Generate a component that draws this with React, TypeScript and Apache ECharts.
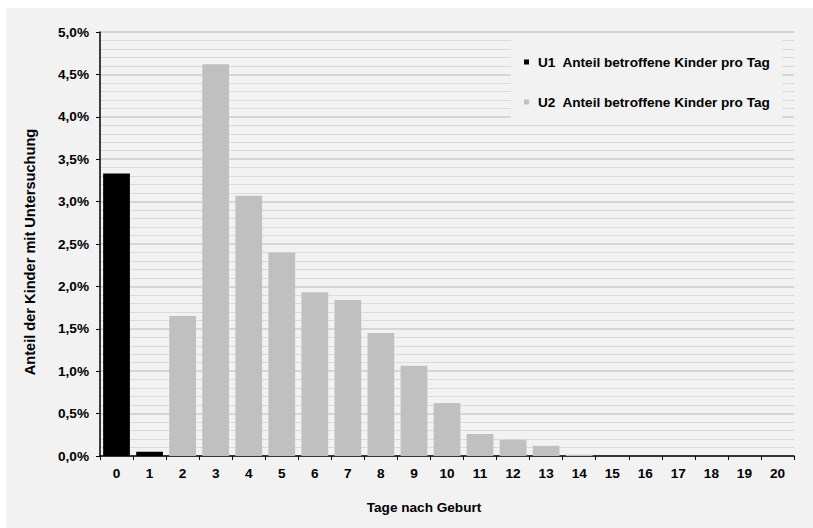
import React, { useEffect, useRef } from "react";
import * as echarts from "echarts";

const categories = ["0","1","2","3","4","5","6","7","8","9","10","11","12","13","14","15","16","17","18","19","20"];
const u1Values: (number | null)[] = [3.33, 0.05, null, null, null, null, null, null, null, null, null, null, null, null, null, null, null, null, null, null, null];
const u2Values: (number | null)[] = [null, null, 1.65, 4.62, 3.07, 2.40, 1.93, 1.84, 1.45, 1.065, 0.625, 0.26, 0.19, 0.12, 0.015, 0, 0, 0, 0, 0, 0];
const u1Name = "U1  Anteil betroffene Kinder pro Tag";
const u2Name = "U2  Anteil betroffene Kinder pro Tag";
const yTitle = "Anteil der Kinder mit Untersuchung";
const xTitle = "Tage nach Geburt";

const FONT = '"Liberation Sans", Arial, sans-serif';
const FS = 13.6;

export default function App() {
  const ref = useRef<HTMLDivElement>(null);
  useEffect(() => {
    if (!ref.current) return;
    const chart = echarts.init(ref.current, undefined, { renderer: "svg" });
    chart.setOption({
      animation: false,
      backgroundColor: "#f2f2f2",
      textStyle: { fontFamily: FONT },
      grid: { left: 94, top: 24, width: 694, height: 424, containLabel: false },
      legend: {
        orient: "vertical",
        left: 505,
        top: 32,
        backgroundColor: "#f2f2f2",
        padding: [14, 12, 14, 13],
        itemWidth: 5,
        itemHeight: 5,
        itemGap: 24,
        icon: "rect",
        data: [u1Name, u2Name],
        textStyle: {
          fontFamily: FONT,
          fontSize: FS,
          fontWeight: "bold",
          color: "#000",
          lineHeight: 16,
          padding: [0, 0, 0, 4],
        },
      },
      xAxis: {
        type: "category",
        data: categories,
        axisLine: { show: true, lineStyle: { color: "#000", width: 1.5 } },
        axisTick: { show: true, length: 4, lineStyle: { color: "#000" } },
        axisLabel: { fontFamily: FONT, fontSize: FS, fontWeight: "bold", color: "#000", margin: 10, interval: 0 },
        splitLine: { show: false },
      },
      yAxis: {
        type: "value",
        min: 0,
        max: 5,
        interval: 0.5,
        axisLine: { show: true, lineStyle: { color: "#000", width: 1.5 } },
        axisTick: { show: true, length: 4, lineStyle: { color: "#000" } },
        axisLabel: {
          fontFamily: FONT,
          fontSize: FS,
          fontWeight: "bold",
          color: "#000",
          margin: 11,
          formatter: (v: number) => v.toFixed(1).replace(".", ",") + "%",
        },
        splitLine: { show: true, lineStyle: { color: "#d6d6d6", width: 2 } },
        minorTick: { show: false, splitNumber: 5 },
        minorSplitLine: { show: true, lineStyle: { color: "#dadada", width: 1 } },
      },
      series: [
        {
          name: u1Name,
          type: "bar",
          data: u1Values,
          barCategoryGap: "19%",
          barGap: "-100%",
          itemStyle: { color: "#000000" },
        },
        {
          name: u2Name,
          type: "bar",
          data: u2Values,
          barCategoryGap: "19%",
          barGap: "-100%",
          itemStyle: { color: "#c0c0c0" },
        },
      ],
      graphic: [
        {
          type: "text",
          x: 24,
          y: 244,
          rotation: Math.PI / 2,
          style: {
            text: yTitle,
            fontFamily: FONT,
            fontSize: 14.6,
            fontWeight: "bold",
            fill: "#000",
            align: "center",
            verticalAlign: "middle",
          },
        },
        {
          type: "text",
          x: 418,
          y: 499,
          style: {
            text: xTitle,
            fontFamily: FONT,
            fontSize: FS,
            fontWeight: "bold",
            fill: "#000",
            align: "center",
            verticalAlign: "middle",
          },
        },
      ],
    });
    return () => chart.dispose();
  }, []);
  return (
    <div
      ref={ref}
      style={{ position: "absolute", left: 6, top: 8, width: 807, height: 520 }}
    />
  );
}
